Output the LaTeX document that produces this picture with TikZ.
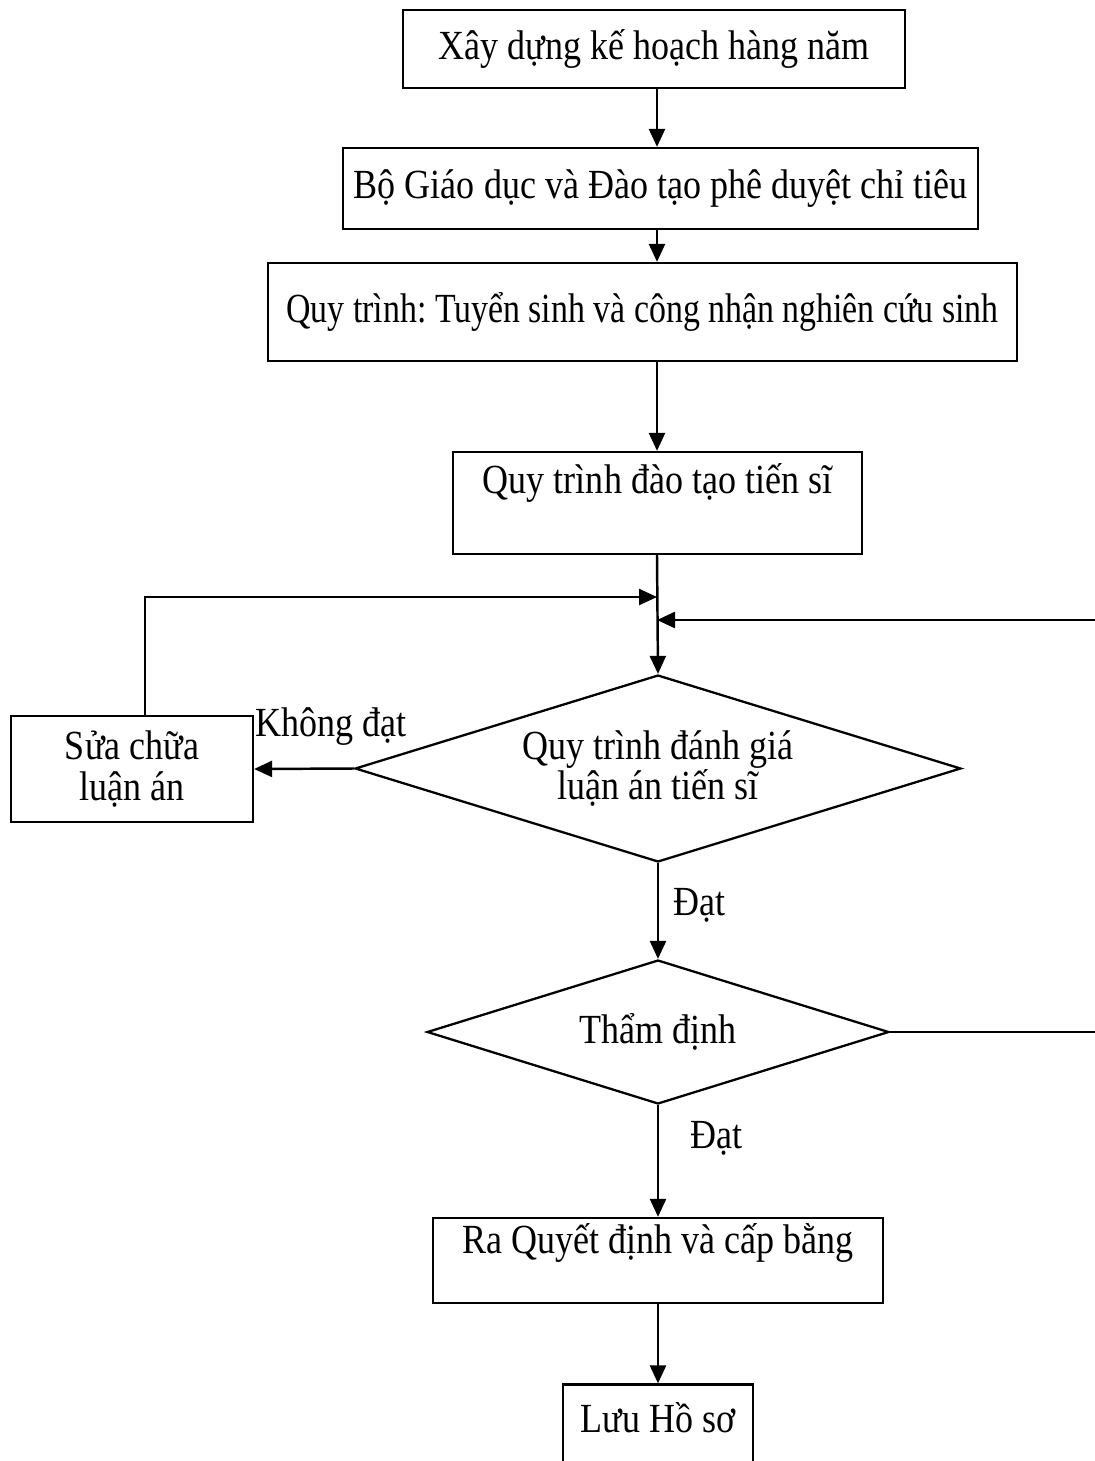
\documentclass[tikz,border=0pt]{standalone}
\usepackage{fontspec}
\setmainfont{Liberation Serif}
\usepackage{graphicx}
\usetikzlibrary{shapes.geometric,arrows.meta}
\newcommand{\tall}[2][1]{\scalebox{#1}[1.15]{#2}}
\frenchspacing

\begin{document}
\begin{tikzpicture}[
  x = 0.02cm, y = -0.02cm,
  every node/.style = {font = \fontsize{20.5}{23}\selectfont, inner sep = 0pt},
  box/.style = {draw, rectangle, line width = 1.3pt},
  choice/.style = {draw, diamond, aspect = 3.2, line width = 1.3pt, align = center},
  lift/.style = {text depth = #1},
  arr/.style = {line width = 1.4pt, -{Triangle[length = 0.36cm, width = 0.32cm]}},
  link/.style = {line width = 1.4pt}
  ]
  \clip (0,0) rectangle (1095,1461);
  \coordinate (spine) at (657,0);
  \coordinate (loopx) at (145,0);
  \coordinate (joinL) at (657,597);
  \coordinate (joinR) at (657,620);
  \coordinate (rb) at (1100,1032);
  \coordinate (rt) at (1100,620);

  \node[box, minimum width = 10.04cm, minimum height = 1.56cm] (plan) at (654,49)
    {\tall{Xây dựng kế hoạch hàng năm}};
  \node[box, minimum width = 12.7cm, minimum height = 1.62cm] (approve) at (660.5,188.5)
    {\tall{Bộ Giáo dục và Đào tạo phê duyệt chỉ tiêu}};
  \node[box, minimum width = 14.98cm, minimum height = 1.96cm] (enrol) at (642.5,312)
    {\tall[0.94]{Quy trình: Tuyển sinh và công nhận nghiên cứu sinh}};
  \node[box, lift = 0.98cm, minimum width = 8.18cm, minimum height = 2.04cm] (train) at (657.5,503)
    {\tall{Quy trình đào tạo tiến sĩ}};
  \node[choice, minimum width = 12.12cm, minimum height = 3.74cm] (eval) at (658,768.5)
    {\tall{Quy trình đánh giá}\\ \tall{luận án tiến sĩ}};
  \node[box, align = center, minimum width = 4.84cm, minimum height = 2.12cm] (fix) at (132,769)
    {\tall{Sửa chữa}\\ \tall{luận án}};
  \node[choice, minimum width = 9.24cm, minimum height = 2.88cm] (check) at (658,1032)
    {\tall{Thẩm định}};
  \node[box, lift = 0.9cm, minimum width = 9cm, minimum height = 1.7cm] (decide) at (658,1260.5)
    {\tall{Ra Quyết định và cấp bằng}};
  \node[box, lift = 0.58cm, minimum width = 3.8cm, minimum height = 1.9cm] (archive) at (658,1432)
    {\tall{Lưu Hồ sơ}};

  \node (nofail) at (331,727) {\tall{Không đạt}};
  \node (pass1) at (699,905) {\tall{Đạt}};
  \node (pass2) at (716,1138) {\tall{Đạt}};

  \draw[arr] (plan.south -| spine) -- (approve.north -| spine);
  \draw[arr] (approve.south -| spine) -- (enrol.north -| spine);
  \draw[arr] (enrol.south -| spine) -- (train.north -| spine);
  \draw[arr] (train.south -| spine) -- (eval.north);
  \draw[arr] (fix.north -| loopx) |- (joinL);
  \draw[arr] (check.east) -- (rb) -- (rt) -- (joinR);
  \draw[arr] (eval.west) -- (fix.east);
  \draw[arr] (eval.south) -- (check.north);
  \draw[arr] (check.south) -- (decide.north);
  \draw[arr] (decide.south) -- (archive.north);
\end{tikzpicture}
\end{document}
